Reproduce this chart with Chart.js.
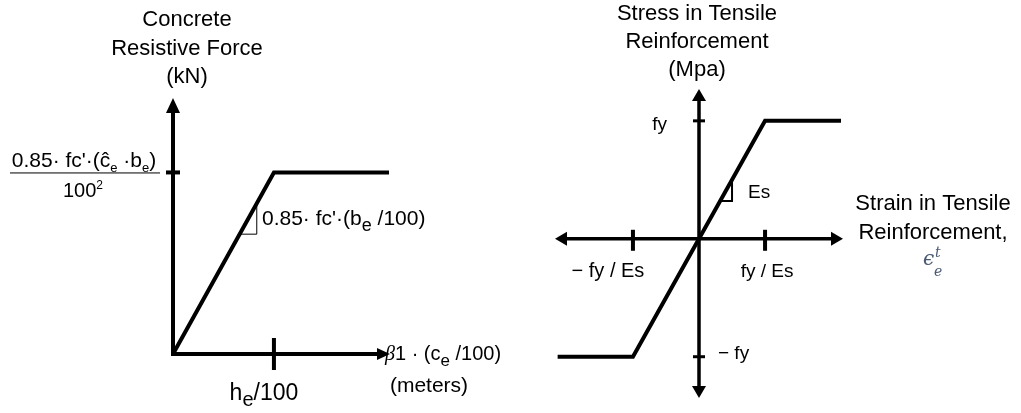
<!DOCTYPE html>
<html>
<head>
<meta charset="utf-8">
<script src="https://cdn.jsdelivr.net/npm/chart.js@4.4.1/dist/chart.umd.min.js"></script>
<style>
  body { margin: 0; background: #fff; }
  .panel { position: absolute; top: 0; }
</style>
</head>
<body>
<div class="panel" style="left:0"><canvas id="concreteChart" width="510" height="413"></canvas></div>
<div class="panel" style="left:510px"><canvas id="steelChart" width="511" height="413"></canvas></div>
<script>
// concrete: x in units of h_e/100, y in units of the plateau force
const concreteX = [0, 1, 2.14];
const concreteY = [0, 1, 1];
const concreteSlopeX = [0.66, 0.83, 0.83];
const concreteSlopeY = [0.66, 0.66, 0.83];
const concreteTickX = [1];
const concreteTickY = [1];

// steel: x in units of fy/Es, y in units of fy
const steelX = [-2.14, -1, 1, 2.15];
const steelY = [-1, -1, 1, 1];
const steelSlopeX = [0.32, 0.5, 0.5];
const steelSlopeY = [0.32, 0.32, 0.5];
const steelTickX = [-1, 1];
const steelTickY = [-1, 1];

const SANS = '"Liberation Sans", Arial, sans-serif';

function toPoints(xs, ys) {
    return xs.map((x, i) => ({x: x, y: ys[i]}));
}

// draw text made of pieces: [text, mode] where mode is '', 'sub', 'sup', 'beta'
function rich(ctx, parts, x, y, size, align) {
    const fonts = {
        '': size + 'px ' + SANS,
        'sub': Math.round(size * 0.62) + 'px ' + SANS,
        'bigsub': Math.round(size * 0.85) + 'px ' + SANS,
        'sup': Math.round(size * 0.62) + 'px ' + SANS,
        'beta': 'italic ' + size + 'px "Liberation Serif", serif'
    };
    const shift = {'': 0, 'sub': size * 0.22, 'bigsub': size * 0.28, 'sup': -size * 0.4, 'beta': 0};
    let total = 0;
    const widths = parts.map(p => {
        ctx.font = fonts[p[1] || ''];
        const w = ctx.measureText(p[0]).width;
        total += w;
        return w;
    });
    let cx = x;
    if (align === 'center') cx = x - total / 2;
    if (align === 'right') cx = x - total;
    ctx.textAlign = 'left';
    ctx.textBaseline = 'alphabetic';
    parts.forEach((p, i) => {
        ctx.font = fonts[p[1] || ''];
        ctx.fillText(p[0], cx, y + shift[p[1] || '']);
        cx += widths[i];
    });
}

function arrow(ctx, tipX, tipY, dx, dy, len, half) {
    const bx = tipX - dx * len, by = tipY - dy * len;
    ctx.beginPath();
    ctx.moveTo(tipX, tipY);
    ctx.lineTo(bx - dy * half, by + dx * half);
    ctx.lineTo(bx + dy * half, by - dx * half);
    ctx.closePath();
    ctx.fill();
}

const concreteAxes = {
    id: 'concreteAxes',
    beforeDatasetsDraw(chart) {
        const ctx = chart.ctx, xs = chart.scales.x, ys = chart.scales.y;
        const ox = xs.getPixelForValue(0), oy = ys.getPixelForValue(0);
        const right = xs.right, top = ys.top;
        ctx.save();
        ctx.strokeStyle = '#000';
        ctx.fillStyle = '#000';
        ctx.lineWidth = 4;
        ctx.lineCap = 'butt';
        ctx.beginPath();
        ctx.moveTo(ox, top + 10);
        ctx.lineTo(ox, oy + 2);
        ctx.moveTo(ox - 2, oy);
        ctx.lineTo(right - 10, oy);
        ctx.stroke();
        arrow(ctx, ox, top, 0, -1, 15, 7);
        arrow(ctx, right, oy, 1, 0, 13, 6);
        concreteTickX.forEach(v => {
            const px = xs.getPixelForValue(v);
            ctx.beginPath();
            ctx.moveTo(px, oy - 16);
            ctx.lineTo(px, oy + 16);
            ctx.stroke();
        });
        concreteTickY.forEach(v => {
            const py = ys.getPixelForValue(v);
            ctx.beginPath();
            ctx.moveTo(ox - 7, py);
            ctx.lineTo(ox + 7, py);
            ctx.stroke();
        });
        ctx.restore();
    },
    afterDraw(chart) {
        const ctx = chart.ctx, xs = chart.scales.x, ys = chart.scales.y;
        const ox = xs.getPixelForValue(0), oy = ys.getPixelForValue(0);
        const ty = ys.getPixelForValue(concreteTickY[0]);
        const tx = xs.getPixelForValue(concreteTickX[0]);
        ctx.save();
        ctx.fillStyle = '#000';
        // title
        rich(ctx, [['Concrete']], 187, 26, 22, 'center');
        rich(ctx, [['Resistive Force']], 187, 55, 22, 'center');
        rich(ctx, [['(kN)']], 187, 83, 22, 'center');
        // y tick label as a fraction
        rich(ctx, [['0.85\u00b7 fc\'\u00b7(\u0109'], ['e', 'sub'], [' \u00b7b'], ['e', 'sub'], [')']], 84, 167, 21, 'center');
        ctx.fillRect(10, ty, 150, 1);
        rich(ctx, [['100'], ['2', 'sup']], 83, 197, 20, 'center');
        // slope label
        rich(ctx, [['0.85\u00b7 fc\'\u00b7(b'], ['e', 'bigsub'], [' /100)']], 262, 225, 21, 'left');
        // x tick label
        rich(ctx, [['h'], ['e', 'bigsub'], ['/100']], tx - 10, oy + 46, 23, 'center');
        // x axis title
        rich(ctx, [['\u03b2', 'beta'], ['1 \u00b7 (c'], ['e', 'bigsub'], [' /100)']], xs.right - 5, oy + 6, 20, 'left');
        rich(ctx, [['(meters)']], 429, oy + 38, 21, 'center');
        ctx.restore();
    }
};

const steelAxes = {
    id: 'steelAxes',
    beforeDatasetsDraw(chart) {
        const ctx = chart.ctx, xs = chart.scales.x, ys = chart.scales.y;
        const ox = xs.getPixelForValue(0), oy = ys.getPixelForValue(0);
        ctx.save();
        ctx.strokeStyle = '#000';
        ctx.fillStyle = '#000';
        ctx.lineWidth = 3.5;
        ctx.beginPath();
        ctx.moveTo(ox, ys.top + 10);
        ctx.lineTo(ox, ys.bottom - 10);
        ctx.moveTo(xs.left + 10, oy);
        ctx.lineTo(xs.right - 10, oy);
        ctx.stroke();
        arrow(ctx, ox, ys.top, 0, -1, 12, 7);
        arrow(ctx, ox, ys.bottom, 0, 1, 12, 7);
        arrow(ctx, xs.left, oy, -1, 0, 12, 7);
        arrow(ctx, xs.right, oy, 1, 0, 12, 7);
        ctx.lineWidth = 4;
        steelTickX.forEach(v => {
            const px = xs.getPixelForValue(v);
            ctx.beginPath();
            ctx.moveTo(px, oy - 9);
            ctx.lineTo(px, oy + 12);
            ctx.stroke();
        });
        ctx.lineWidth = 3;
        steelTickY.forEach(v => {
            const py = ys.getPixelForValue(v);
            ctx.beginPath();
            ctx.moveTo(ox - 6, py);
            ctx.lineTo(ox + 6, py);
            ctx.stroke();
        });
        ctx.restore();
    },
    afterDraw(chart) {
        const ctx = chart.ctx, xs = chart.scales.x, ys = chart.scales.y;
        const ox = xs.getPixelForValue(0), oy = ys.getPixelForValue(0);
        ctx.save();
        ctx.fillStyle = '#000';
        rich(ctx, [['Stress in Tensile']], ox - 2, 20, 22, 'center');
        rich(ctx, [['Reinforcement']], ox - 2, 48, 22, 'center');
        rich(ctx, [['(Mpa)']], ox - 2, 76, 22, 'center');
        rich(ctx, [['fy']], ox - 32, ys.getPixelForValue(1) + 9, 19, 'right');
        rich(ctx, [['\u2212 fy']], ox + 19, ys.getPixelForValue(-1) + 2, 19, 'left');
        rich(ctx, [['\u2212 fy / Es']], xs.getPixelForValue(-1) - 25, oy + 38, 20, 'center');
        rich(ctx, [['fy / Es']], xs.getPixelForValue(1) + 2, oy + 38, 19, 'center');
        rich(ctx, [['Es']], ox + 49, 198, 19, 'left');
        rich(ctx, [['Strain in Tensile']], 423, 210, 22, 'center');
        rich(ctx, [['Reinforcement,']], 423, 239, 22, 'center');
        // epsilon symbol
        ctx.fillStyle = '#4b5a73';
        ctx.font = 'italic 20px "DejaVu Serif", serif';
        ctx.textAlign = 'left';
        ctx.fillText('\u03f5', 413, 265);
        ctx.font = 'italic 14px "DejaVu Serif", serif';
        ctx.fillText('t', 425, 257);
        ctx.fillText('e', 424, 276);
        ctx.restore();
    }
};

function baseOptions(pad, xMin, xMax, yMin, yMax) {
    return {
        responsive: false,
        animation: false,
        devicePixelRatio: 1,
        layout: {padding: pad},
        plugins: {legend: {display: false}, tooltip: {enabled: false}},
        scales: {
            x: {type: 'linear', display: false, min: xMin, max: xMax},
            y: {type: 'linear', display: false, min: yMin, max: yMax}
        }
    };
}

function lineSet(xs, ys, width) {
    return {
        data: toPoints(xs, ys),
        showLine: true,
        borderColor: '#000',
        borderWidth: width,
        pointRadius: 0,
        fill: false,
        tension: 0,
        clip: false,
        borderJoinStyle: 'miter'
    };
}

new Chart(document.getElementById('concreteChart').getContext('2d'), {
    type: 'scatter',
    data: {
        datasets: [
            lineSet(concreteX, concreteY, 4),
            lineSet(concreteSlopeX, concreteSlopeY, 1)
        ]
    },
    options: baseOptions({left: 173, right: 120, top: 98, bottom: 59}, 0, 2.15, 0, 1.41),
    plugins: [concreteAxes]
});

new Chart(document.getElementById('steelChart').getContext('2d'), {
    type: 'scatter',
    data: {
        datasets: [
            lineSet(steelX, steelY, 4),
            lineSet(steelSlopeX, steelSlopeY, 2)
        ]
    },
    options: baseOptions({left: 45, right: 178, top: 89, bottom: 15}, -2.18, 2.18, -1.35, 1.27),
    plugins: [steelAxes]
});
</script>
</body>
</html>
